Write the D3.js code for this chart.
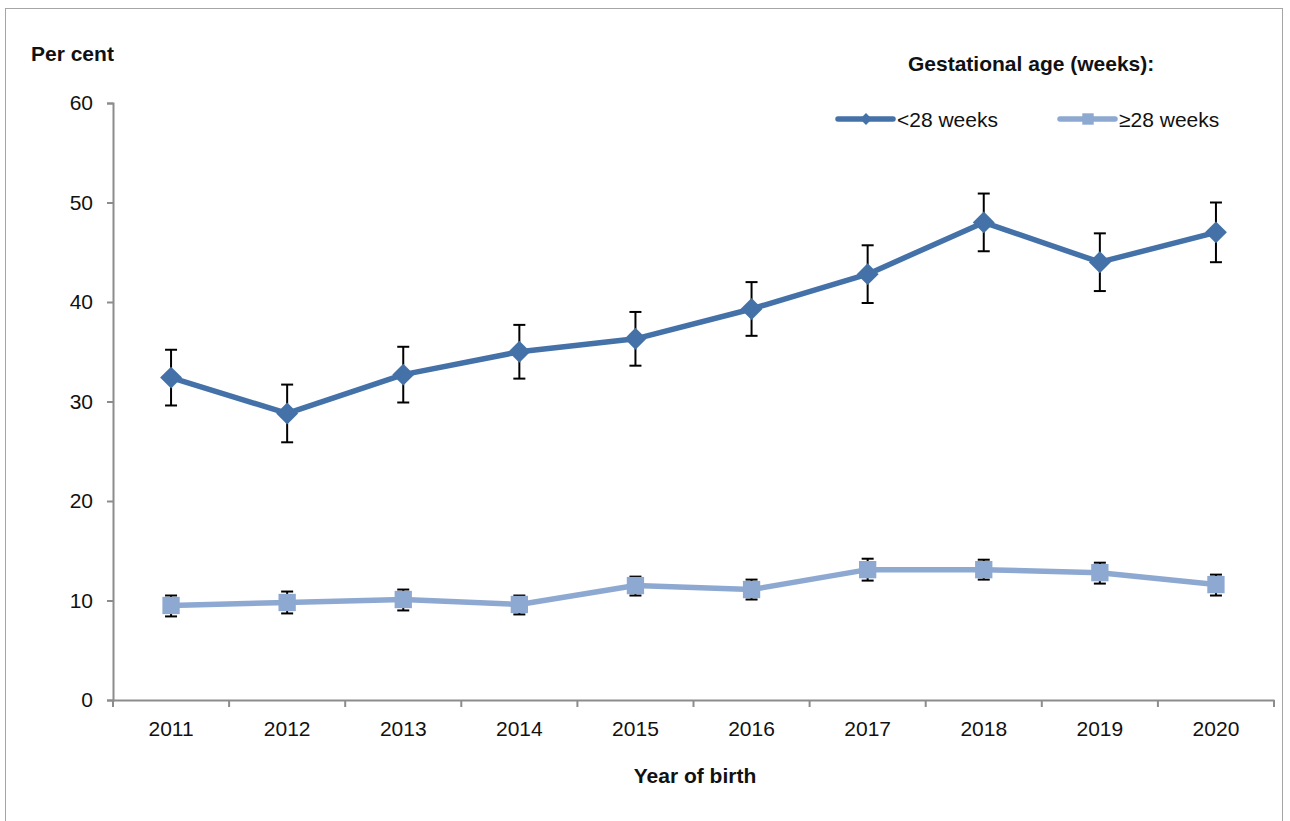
<!DOCTYPE html>
<html><head><meta charset="utf-8">
<script src="https://cdn.jsdelivr.net/npm/d3@7"></script>
<style>body{margin:0;background:#fff}svg{display:block}text{font-family:"Liberation Sans",Arial,Helvetica,sans-serif}</style>
</head><body><svg id="c" width="1290" height="821"></svg>
<script>
const years = ["2011","2012","2013","2014","2015","2016","2017","2018","2019","2020"];
const under28 = [32.4, 28.8, 32.7, 35.0, 36.3, 39.3, 42.8, 48.0, 44.0, 47.0];
const under28Lo = [29.6, 25.9, 29.9, 32.3, 33.6, 36.6, 39.9, 45.1, 41.1, 44.0];
const under28Hi = [35.2, 31.7, 35.5, 37.7, 39.0, 42.0, 45.7, 50.9, 46.9, 50.0];
const over28 = [9.5, 9.8, 10.1, 9.6, 11.5, 11.1, 13.1, 13.1, 12.8, 11.6];
const over28Lo = [8.4, 8.7, 9.0, 8.6, 10.5, 10.1, 12.0, 12.1, 11.7, 10.5];
const over28Hi = [10.5, 10.9, 11.1, 10.5, 12.4, 12.1, 14.2, 14.1, 13.8, 12.6];
const yTicks = [0, 10, 20, 30, 40, 50, 60];
const seriesNames = ["<28 weeks", "\u226528 weeks"];

const svg = d3.select("#c");
svg.append("rect").attr("x",5.5).attr("y",8.5).attr("width",1277).attr("height",830)
  .attr("fill","none").attr("stroke","#a6a6a6").attr("stroke-width",1);

const x = d3.scaleBand().domain(years).range([113,1274]);
const y = d3.scaleLinear().domain([0,60]).range([700,103]);
const axisCol = "#8c8c8c";
const fs = 21;

// y axis
const ya = svg.append("g").attr("transform","translate(113,0)")
  .call(d3.axisLeft(y).tickValues(yTicks).tickSize(6).tickPadding(14));
ya.select(".domain").attr("stroke",axisCol).attr("stroke-width",2);
ya.selectAll(".tick line").attr("stroke",axisCol).attr("stroke-width",2);
ya.selectAll(".tick text").attr("font-size",fs).attr("fill","#111");

// x axis
const xa = svg.append("g").attr("transform","translate(0,700)")
  .call(d3.axisBottom(x).tickSize(0).tickPadding(21));
xa.select(".domain").attr("stroke",axisCol).attr("stroke-width",2);
xa.selectAll(".tick text").attr("font-size",fs).attr("fill","#111");
const bounds = years.map(d=>x(d)).concat([x.range()[1]]);
xa.selectAll(".bt").data(bounds).join("line").attr("class","bt")
  .attr("x1",d=>d).attr("x2",d=>d).attr("y1",0).attr("y2",7)
  .attr("stroke",axisCol).attr("stroke-width",2);

const cx = d => x(d) + x.bandwidth()/2;

const series = [
  {v: under28, lo: under28Lo, hi: under28Hi, color:"#4472a8", shape:"diamond"},
  {v: over28, lo: over28Lo, hi: over28Hi, color:"#8ea9d1", shape:"square"}
];
const line = d3.line().x((d,i)=>cx(years[i])).y(d=>y(d));
series.forEach(s=>{
  svg.append("path").datum(s.v).attr("d",line).attr("fill","none")
    .attr("stroke",s.color).attr("stroke-width",5.5).attr("stroke-linejoin","round");
  const g = svg.append("g");
  years.forEach((yr,i)=>{
    const px = cx(yr);
    g.append("line").attr("x1",px).attr("x2",px).attr("y1",y(s.lo[i])).attr("y2",y(s.hi[i]))
      .attr("stroke","#000").attr("stroke-width",2);
    [s.lo[i], s.hi[i]].forEach(v=>{
      g.append("line").attr("x1",px-6).attr("x2",px+6).attr("y1",y(v)).attr("y2",y(v))
        .attr("stroke","#000").attr("stroke-width",2);
    });
  });
  const sym = s.shape==="diamond" ? d3.symbol(d3.symbolSquare, 240) : d3.symbol(d3.symbolSquare, 300);
  svg.append("g").selectAll("path").data(s.v).join("path")
    .attr("d", sym)
    .attr("transform",(d,i)=>`translate(${cx(years[i])},${y(d)})` + (s.shape==="diamond"?" rotate(45)":""))
    .attr("fill",s.color);
});

// titles
svg.append("text").attr("x",31).attr("y",61).attr("font-size",fs).attr("font-weight","bold").attr("fill","#111").text("Per cent");
svg.append("text").attr("x",695).attr("y",783).attr("text-anchor","middle").attr("font-size",fs).attr("font-weight","bold").attr("fill","#111").text("Year of birth");
svg.append("text").attr("x",908).attr("y",71).attr("font-size",fs).attr("font-weight","bold").attr("fill","#111").text("Gestational age (weeks):");

// legend
const leg = [{x:838, s:series[0], name:seriesNames[0]},{x:1060, s:series[1], name:seriesNames[1]}];
leg.forEach(l=>{
  svg.append("line").attr("x1",l.x).attr("x2",l.x+55).attr("y1",119).attr("y2",119)
    .attr("stroke",l.s.color).attr("stroke-width",5.5).attr("stroke-linecap","round");
  svg.append("path").attr("d", l.s.shape==="diamond"? d3.symbol(d3.symbolSquare,70)() : d3.symbol(d3.symbolSquare,130)())
    .attr("transform",`translate(${l.x+28},119)`+(l.s.shape==="diamond"?" rotate(45)":""))
    .attr("fill",l.s.color);
  svg.append("text").attr("x",l.x+59).attr("y",127).attr("font-size",fs).attr("fill","#111").text(l.name);
});
</script></body></html>
